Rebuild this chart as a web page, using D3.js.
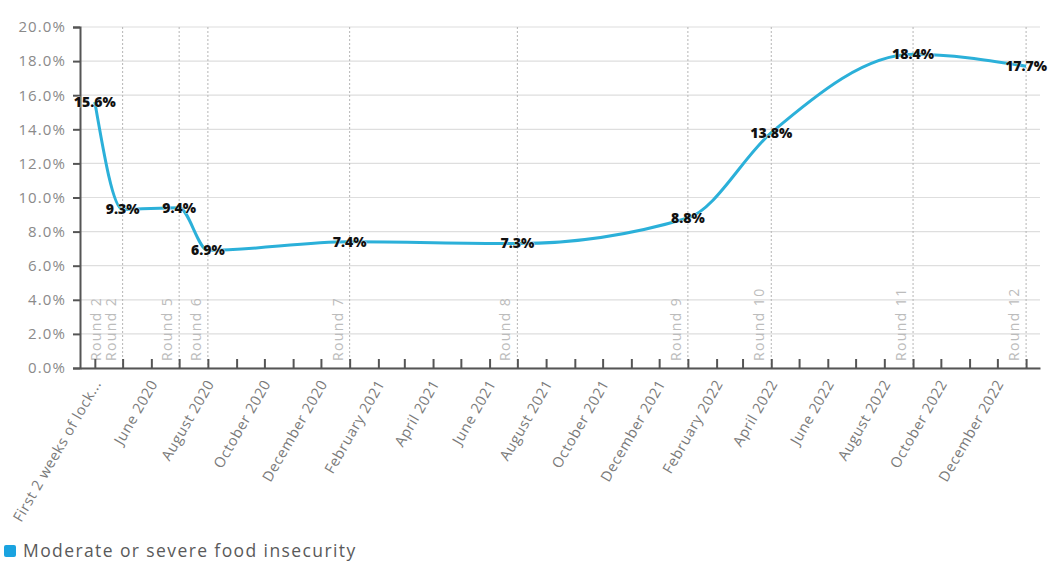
<!DOCTYPE html>
<html>
<head>
<meta charset="utf-8">
<script src="https://cdn.jsdelivr.net/npm/d3@7"></script>
<style>
  body { margin: 0; background: #fff; }
  svg { display: block; font-family: "Open Sans", sans-serif; }
</style>
</head>
<body>
<div id="chart"></div>
<script>
// survey rounds: month of fieldwork, share with moderate or severe food insecurity (%)
var roundMonths = ["2020-04", "2020-05", "2020-07", "2020-08", "2021-01", "2021-07", "2022-01", "2022-04", "2022-09", "2023-01"];
var insecurity = [15.6, 9.3, 9.4, 6.9, 7.4, 7.3, 8.8, 13.8, 18.4, 17.7];
var roundNames = ["Round 2", "Round 2", "Round 5", "Round 6", "Round 7", "Round 8", "Round 9", "Round 10", "Round 11", "Round 12"];

// x tick labels, one every two months starting at April 2020
var xTickLabels = ["First 2 weeks of lock...", "June 2020", "August 2020", "October 2020", "December 2020",
  "February 2021", "April 2021", "June 2021", "August 2021", "October 2021", "December 2021",
  "February 2022", "April 2022", "June 2022", "August 2022", "October 2022", "December 2022"];
var yTicks = [0, 2, 4, 6, 8, 10, 12, 14, 16, 18, 20];
var seriesName = "Moderate or severe food insecurity";

(function() {

  var W = 1050, H = 567;
  var margin = { top: 27, left: 80, right: 1040, bottom: 368 };

  var parseMonth = d3.timeParse("%Y-%m");
  var data = roundMonths.map(function(m, i) {
    return { date: parseMonth(m), value: insecurity[i], round: roundNames[i] };
  });

  var svg = d3.select("#chart").append("svg")
    .attr("width", W)
    .attr("height", H);

  var xScale = d3.scaleTime()
    .domain([new Date(2020, 2, 16), new Date(2023, 0, 16)])
    .range([margin.left, margin.right]);

  var yScale = d3.scaleLinear()
    .domain([0, 20])
    .range([margin.bottom, margin.top]);

  // horizontal grid
  svg.append("g")
    .selectAll("line")
    .data(yTicks)
    .enter()
    .append("line")
    .attr("x1", margin.left)
    .attr("x2", margin.right)
    .attr("y1", d => yScale(d))
    .attr("y2", d => yScale(d))
    .attr("stroke", "#dedede")
    .attr("stroke-width", 1.2);

  // round markers (dotted verticals) - the first label has no line of its own
  var rounds = svg.append("g");
  rounds.selectAll("line")
    .data(data.slice(1))
    .enter()
    .append("line")
    .attr("x1", d => xScale(d.date))
    .attr("x2", d => xScale(d.date))
    .attr("y1", margin.top)
    .attr("y2", margin.bottom)
    .attr("stroke", "#b5b5b5")
    .attr("stroke-width", 1)
    .attr("stroke-dasharray", "2,2");

  rounds.selectAll("text")
    .data(data)
    .enter()
    .append("text")
    .attr("transform", function(d, i) {
      var x = xScale(d.date) + (i === 0 ? 6 : -7);
      return "translate(" + x + "," + (margin.bottom - 7) + ") rotate(-90)";
    })
    .attr("font-size", 14)
    .attr("letter-spacing", 1.4)
    .attr("fill", "#bcbcbc")
    .text(d => d.round);

  // y axis
  var yAxis = svg.append("g")
    .attr("transform", "translate(" + margin.left + ",0)")
    .call(d3.axisLeft(yScale).tickValues(yTicks).tickSize(7).tickPadding(7)
      .tickFormat(d => d.toFixed(1) + "%"));
  yAxis.select(".domain").attr("stroke", "#555").attr("stroke-width", 2);
  yAxis.selectAll(".tick line").attr("stroke", "#555").attr("stroke-width", 2);
  yAxis.selectAll("text")
    .attr("font-size", 15)
    .attr("letter-spacing", 1.1)
    .attr("font-family", "Open Sans, sans-serif")
    .attr("fill", "#8a8a8a");

  // x axis: monthly ticks pointing up
  var months = d3.timeMonth.range(new Date(2020, 3, 1), new Date(2023, 0, 2));
  var xAxis = svg.append("g")
    .attr("transform", "translate(0," + margin.bottom + ")")
    .call(d3.axisBottom(xScale).tickValues(months).tickSizeInner(-9).tickSizeOuter(0)
      .tickFormat(function(d, i) { return i % 2 === 0 ? xTickLabels[i / 2] : ""; }));
  xAxis.select(".domain").attr("stroke", "#555").attr("stroke-width", 2);
  xAxis.selectAll(".tick line").attr("stroke", "#555").attr("stroke-width", 2);
  xAxis.selectAll("text")
    .attr("font-size", 14.5)
    .attr("letter-spacing", 0.6)
    .attr("font-family", "Open Sans, sans-serif")
    .attr("fill", "#7a7a7a")
    .attr("text-anchor", "end")
    .attr("x", 0)
    .attr("y", 0)
    .attr("dy", "0.35em")
    .attr("transform", "translate(2,13) rotate(-60)");

  // the series line
  var line = d3.line()
    .x(d => xScale(d.date))
    .y(d => yScale(d.value))
    .curve(d3.curveMonotoneX);

  svg.append("path")
    .datum(data)
    .attr("d", line)
    .attr("fill", "none")
    .attr("stroke", "#2bb0d9")
    .attr("stroke-width", 3);

  // value labels
  svg.append("g")
    .selectAll("text")
    .data(data)
    .enter()
    .append("text")
    .attr("x", d => xScale(d.date))
    .attr("y", d => yScale(d.value))
    .attr("dy", "0.35em")
    .attr("text-anchor", "middle")
    .attr("font-size", 14)
    .attr("font-weight", 800)
    .attr("fill", "#111")
    .attr("stroke", "#fff")
    .attr("stroke-width", 0.6)
    .attr("paint-order", "stroke")
    .text(d => d.value.toFixed(1) + "%");

  // legend
  var legend = svg.append("g").attr("transform", "translate(4,545)");
  legend.append("rect")
    .attr("width", 12)
    .attr("height", 12)
    .attr("rx", 2)
    .attr("fill", "#1aa3e0");
  legend.append("text")
    .attr("x", 19)
    .attr("y", 6)
    .attr("dy", "0.35em")
    .attr("font-size", 17.5)
    .attr("letter-spacing", 1.4)
    .attr("fill", "#5a5a5a")
    .text(seriesName);

})();
</script>
</body>
</html>
